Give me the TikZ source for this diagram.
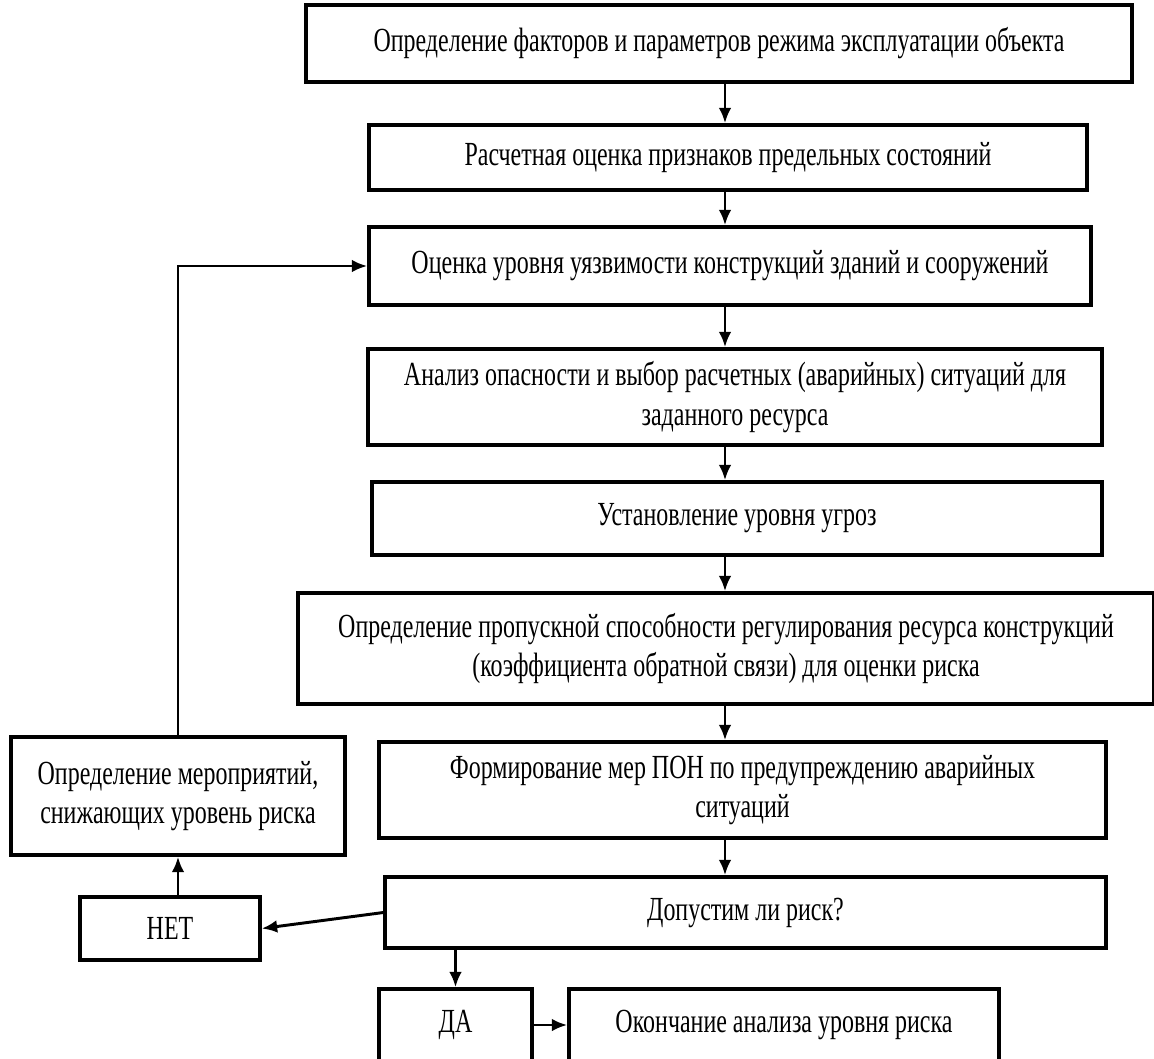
\documentclass[tikz,border=0pt]{standalone}
\usepackage{fontspec}
\setmainfont{Liberation Serif}[FakeStretch=0.71]
\usetikzlibrary{arrows.meta,positioning}

\begin{document}
\begin{tikzpicture}[>=Latex, x=0.025cm, y=-0.025cm, line join=miter]

% --------- стили ----------
\tikzset{
  blk/.style={draw, line width=2.4pt, align=center, inner sep=0pt,
              font=\fontsize{24}{28}\selectfont},
  ln/.style={->, line width=2.1pt, >={Latex[length=11pt,width=9pt]}}
}
\def\u{0.025cm}   % 1 px

\useasboundingbox (0,0) rectangle (1154,1058);
\clip (0,0) rectangle (1154,1058);

% ===================== основной столбец =====================
\node[blk, minimum width=826*\u, minimum height=77*\u] (fact) at (719,43.5)
  {Определение факторов и параметров режима эксплуатации объекта};
\node[blk, minimum width=718*\u, minimum height=65*\u] (calc) at (728,157.5)
  {Расчетная оценка признаков предельных состояний};
\node[blk, minimum width=722*\u, minimum height=78*\u] (vuln) at (730,266)
  {Оценка уровня уязвимости конструкций зданий и сооружений};
\node[blk, minimum width=734*\u, minimum height=96*\u] (haz) at (735,397)
  {Анализ опасности и выбор расчетных (аварийных) ситуаций для\\заданного ресурса};
\node[blk, minimum width=730*\u, minimum height=73*\u] (thr) at (737,518.5)
  {Установление уровня угроз};
\node[blk, minimum width=856*\u, minimum height=111*\u] (cap) at (726,648.5)
  {Определение пропускной способности регулирования ресурса конструкций\\(коэффициента обратной связи) для оценки риска};
\node[blk, minimum width=727*\u, minimum height=96*\u] (pon) at (742.5,790)
  {Формирование мер ПОН по предупреждению аварийных\\ситуаций};
\node[blk, minimum width=721*\u, minimum height=71*\u] (risk) at (745.5,912.5)
  {Допустим ли риск?};

% ===================== ветви =====================
\node[blk, minimum width=153*\u, minimum height=72*\u] (yes) at (455.5,1025) {ДА};
\node[blk, minimum width=430*\u, minimum height=72*\u] (fin) at (784,1025)
  {Окончание анализа уровня риска};
\node[blk, minimum width=180*\u, minimum height=63*\u] (no) at (170,928.5) {НЕТ};
\node[blk, minimum width=334*\u, minimum height=118*\u] (meas) at (178,796)
  {Определение мероприятий,\\снижающих уровень риска};

% ===================== связи =====================
\coordinate (ax) at (725,0);
\draw[ln] (fact.south -| ax) -- (calc.north -| ax);
\draw[ln] (calc.south -| ax) -- (vuln.north -| ax);
\draw[ln] (vuln.south -| ax) -- (haz.north -| ax);
\draw[ln] (haz.south -| ax) -- (thr.north -| ax);
\draw[ln] (thr.south -| ax) -- (cap.north -| ax);
\draw[ln] (cap.south -| ax) -- (pon.north -| ax);
\draw[ln] (pon.south -| ax) -- (risk.north -| ax);

\draw[ln] (risk.west) -- (no.east);
\draw[ln] (risk.south -| yes) -- (yes.north);
\draw[ln] (yes.east) -- (fin.west);
\draw[ln] (no.north -| meas) -- (meas.south);
\draw[ln] (meas.north) |- (vuln.west);

\end{tikzpicture}
\end{document}
